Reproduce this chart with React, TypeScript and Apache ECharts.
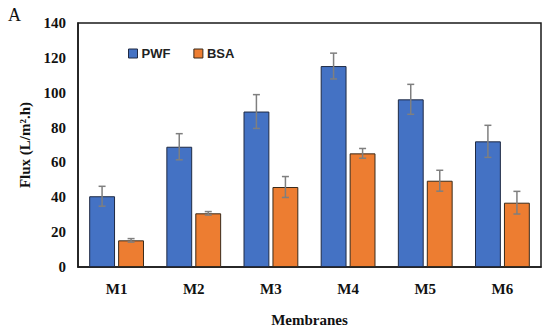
import React, { useEffect, useRef } from "react";
import * as echarts from "echarts";

const categories = ["M1", "M2", "M3", "M4", "M5", "M6"];
const pwfValues = [40.6, 69, 89.2, 115.3, 96.2, 72.1];
const pwfErrors = [5.7, 7.5, 9.7, 7.4, 8.6, 9.2];
const bsaValues = [15.3, 30.8, 45.9, 65.2, 49.5, 36.9];
const bsaErrors = [1.0, 1.0, 6.0, 2.8, 6.0, 6.5];
const yTicks = { min: 0, max: 140, interval: 20 };

const BLUE = "#4472C4";
const ORANGE = "#ED7D31";

function errorSeries(name: string, values: number[], errors: number[], side: number) {
  return {
    type: "custom",
    name: name + "-err",
    silent: true,
    z: 10,
    data: values.map((v, i) => [i, v, errors[i]]),
    renderItem: (params: any, api: any) => {
      const idx = api.value(0);
      const v = api.value(1);
      const e = api.value(2);
      const cw = api.size([1, 0])[0];
      const off = side * cw * 0.188;
      const top = api.coord([idx, v + e]);
      const bot = api.coord([idx, v - e]);
      const x = top[0] + off;
      const cap = 3.5;
      const style = { stroke: "#7F7F7F", lineWidth: 1.5 };
      return {
        type: "group",
        children: [
          { type: "line", shape: { x1: x, y1: top[1], x2: x, y2: bot[1] }, style },
          { type: "line", shape: { x1: x - cap, y1: top[1], x2: x + cap, y2: top[1] }, style },
          { type: "line", shape: { x1: x - cap, y1: bot[1], x2: x + cap, y2: bot[1] }, style },
        ],
      };
    },
  };
}

export default function App() {
  const ref = useRef<HTMLDivElement>(null);
  useEffect(() => {
    if (!ref.current) return;
    const chart = echarts.init(ref.current, undefined, { renderer: "svg" });
    const serif = "'Liberation Serif', 'Times New Roman', serif";
    chart.setOption({
      animation: false,
      backgroundColor: "#ffffff",
      grid: {
        left: 78,
        right: 9,
        top: 23,
        bottom: 69,
        show: true,
        borderColor: "#1a1a1a",
        borderWidth: 1.5,
        backgroundColor: "transparent",
      },
      legend: {
        left: 123,
        top: 42,
        itemWidth: 9,
        itemHeight: 9,
        itemGap: 23,
        icon: "rect",
        data: [
          { name: "PWF", itemStyle: { color: BLUE, borderColor: "#1f2a44", borderWidth: 1 } },
          { name: "BSA", itemStyle: { color: ORANGE, borderColor: "#3a2a1a", borderWidth: 1 } },
        ],
        textStyle: {
          fontFamily: "'Liberation Sans Narrow', 'Liberation Sans', sans-serif",
          fontWeight: "bold",
          fontSize: 13,
          color: "#222",
          padding: [0, 0, 0, -1],
        },
      },
      graphic: [
        {
          type: "text",
          left: 8,
          top: 6,
          style: { text: "A", font: "18px " + serif, fill: "#111" },
        },
      ],
      xAxis: {
        type: "category",
        data: categories,
        name: "Membranes",
        nameLocation: "middle",
        nameGap: 45,
        nameTextStyle: { fontFamily: serif, fontWeight: "bold", fontSize: 15, color: "#111" },
        axisLine: { lineStyle: { color: "#1a1a1a", width: 1.5 } },
        axisTick: { show: false },
        axisLabel: { fontFamily: serif, fontWeight: "bold", fontSize: 15, color: "#111", margin: 14 },
      },
      yAxis: {
        type: "value",
        min: yTicks.min,
        max: yTicks.max,
        interval: yTicks.interval,
        name: "Flux (L/m².h)",
        nameLocation: "middle",
        nameGap: 42,
        nameTextStyle: { fontFamily: serif, fontWeight: "bold", fontSize: 15, color: "#111" },
        axisLine: { show: true, lineStyle: { color: "#1a1a1a", width: 1.5 } },
        axisTick: { show: false },
        splitLine: { show: false },
        axisLabel: { fontFamily: serif, fontWeight: "bold", fontSize: 15, color: "#111", margin: 12 },
      },
      series: [
        {
          name: "PWF",
          type: "bar",
          data: pwfValues,
          barWidth: "33.5%",
          barGap: "12%",
          itemStyle: { color: BLUE, borderColor: "#1f2a44", borderWidth: 1 },
        },
        {
          name: "BSA",
          type: "bar",
          data: bsaValues,
          barWidth: "33.5%",
          barGap: "12%",
          itemStyle: { color: ORANGE, borderColor: "#3a2a1a", borderWidth: 1 },
        },
        errorSeries("PWF", pwfValues, pwfErrors, -1),
        errorSeries("BSA", bsaValues, bsaErrors, 1),
      ],
    });
    return () => chart.dispose();
  }, []);
  return <div ref={ref} style={{ width: 550, height: 336, position: "absolute", left: 0, top: 0 }} />;
}
